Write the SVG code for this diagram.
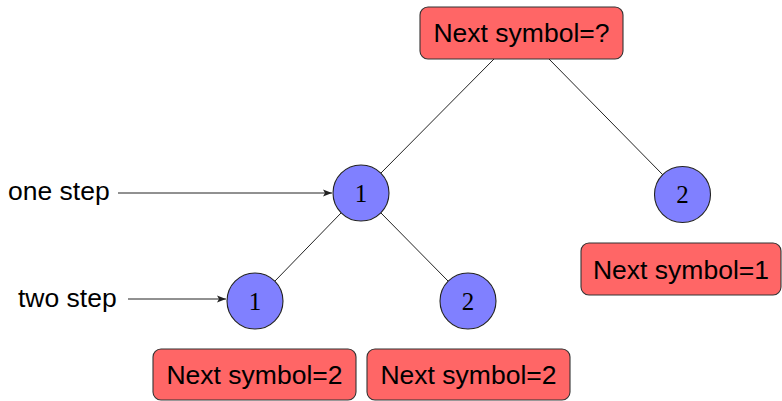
<svg xmlns="http://www.w3.org/2000/svg" width="782" height="401" viewBox="0 0 782 401">
<style>
.box{fill:#FF6666;stroke:#333;stroke-width:1.1}
.circ{fill:#8080FF;stroke:#222;stroke-width:1.1}
.lbl{font-family:"Liberation Sans",Arial,sans-serif;font-size:26.5px;fill:#000}
.num{font-family:"Liberation Serif","DejaVu Serif",serif;font-size:25px;fill:#000;text-anchor:middle}
.edge{stroke:#222;stroke-width:1;fill:none}
</style>
<defs>
<marker id="arr" markerWidth="10" markerHeight="8" refX="9" refY="4" orient="auto" markerUnits="userSpaceOnUse">
<path d="M0,0.5 L9,4 L0,7.5 L2,4 Z" fill="#222"/>
</marker>
</defs>
<g id="connectors">
<line class="edge" x1="494" y1="59" x2="381" y2="173"/>
<line class="edge" x1="549" y1="59" x2="663" y2="175"/>
<line class="edge" x1="341" y1="213" x2="275" y2="281"/>
<line class="edge" x1="381" y1="213" x2="448" y2="281"/>
<line class="edge" x1="118" y1="193" x2="332" y2="193" marker-end="url(#arr)"/>
<line class="edge" x1="128" y1="299" x2="226" y2="299" marker-end="url(#arr)"/>
</g>
<g id="root">
<rect class="box" x="420" y="7" width="203" height="52" rx="8"/>
<text class="lbl" x="521.5" y="42" text-anchor="middle">Next symbol=?</text>
</g>
<g id="n1">
<circle class="circ" cx="361" cy="193" r="28"/>
<text class="num" x="361" y="201.5">1</text>
</g>
<g id="n2">
<circle class="circ" cx="682.5" cy="194.5" r="28"/>
<text class="num" x="682.5" y="203">2</text>
</g>
<g id="n11">
<circle class="circ" cx="255" cy="301" r="28"/>
<text class="num" x="255" y="309.5">1</text>
</g>
<g id="n12">
<circle class="circ" cx="468" cy="301" r="28"/>
<text class="num" x="468" y="309.5">2</text>
</g>
<g id="out2">
<rect class="box" x="581" y="243" width="200" height="52" rx="8"/>
<text class="lbl" x="681" y="278.5" text-anchor="middle">Next symbol=1</text>
</g>
<g id="out11">
<rect class="box" x="153" y="349" width="203" height="51" rx="8"/>
<text class="lbl" x="254.5" y="384" text-anchor="middle">Next symbol=2</text>
</g>
<g id="out12">
<rect class="box" x="367" y="349" width="203" height="51" rx="8"/>
<text class="lbl" x="468.5" y="384" text-anchor="middle">Next symbol=2</text>
</g>
<g id="label-one">
<text class="lbl" x="8" y="200">one step</text>
</g>
<g id="label-two">
<text class="lbl" x="18" y="307">two step</text>
</g>
</svg>
